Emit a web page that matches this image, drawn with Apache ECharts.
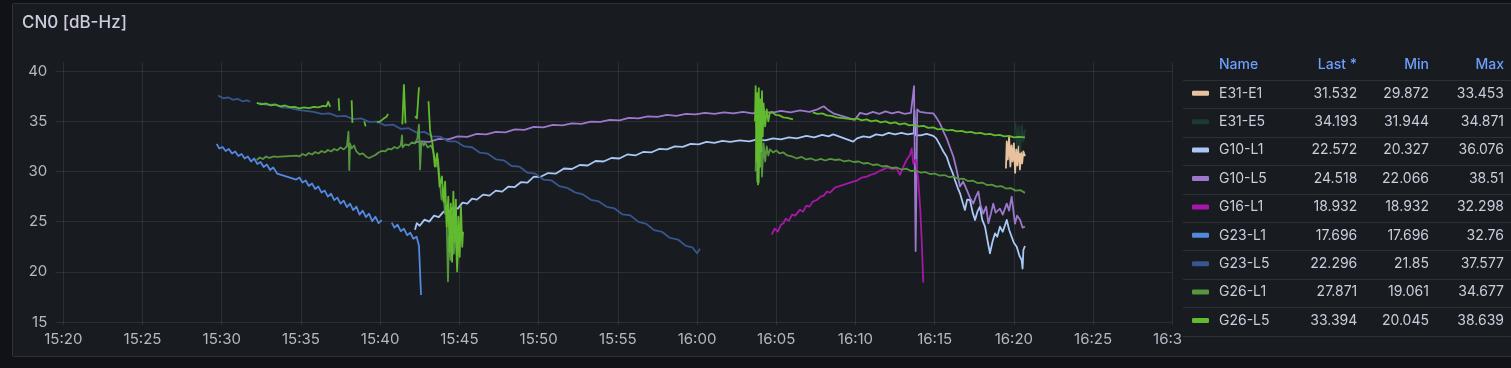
<!DOCTYPE html>
<html><head><meta charset="utf-8">
<script src="https://cdn.jsdelivr.net/npm/echarts@6/dist/echarts.min.js"></script>
<style>
html,body{margin:0;padding:0;background:#111217;width:1511px;height:368px;overflow:hidden;}
#panel{position:absolute;left:12px;top:3px;width:1510px;height:354px;background:#181b1f;border:1px solid rgba(204,204,220,0.12);border-radius:2px;box-sizing:border-box;}
#chart{position:absolute;left:0;top:0;width:1511px;height:368px;}
</style></head><body>
<div id="panel"></div><div id="chart"></div>
<script>
// ---- data (x = minutes after 15:20, y = CN0 dB-Hz; null y = gap) ----
const seriesNames  = ['E31-E1','E31-E5','G10-L1','G10-L5','G16-L1','G23-L1','G23-L5','G26-L1','G26-L5'];
const seriesColors = ['#e6c39e','#1d3a33','#a9c7f7','#9c78cc','#a818a8','#5288de','#37558f','#56963f','#62bb2e'];
const lastVals = [31.532, 34.193, 22.572, 24.518, 18.932, 17.696, 22.296, 27.871, 33.394];
const minVals  = [29.872, 31.944, 20.327, 22.066, 18.932, 17.696, 21.85, 19.061, 20.045];
const maxVals  = [33.453, 34.871, 36.076, 38.51, 32.298, 32.76, 37.577, 34.677, 38.639];
const legendHeader = ['Name','Last *','Min','Max'];
const xTickLabels = ['15:20','15:25','15:30','15:35','15:40','15:45','15:50','15:55','16:00','16:05','16:10','16:15','16:20','16:25','16:30'];
const yTickValues = [15,20,25,30,35,40];

const dataE31E1 = [[59.5,30.3],[59.55,33.0],[59.62,31.2],[59.7,33.453],[59.78,30.5],[59.85,32.6],[59.92,31.0],[60.0,32.8],[60.08,29.872],[60.15,32.2],[60.22,30.6],[60.3,32.5],[60.38,30.2],[60.45,31.9],[60.52,30.8],[60.6,32.0],[60.7,31.532]];
const dataE31E5 = [[60.1,34.871],[60.2,32.5],[60.3,34.5],[60.4,31.944],[60.5,34.6],[60.6,33.0],[60.7,34.193]];
const dataG10L1 = [[22.2,24.2],[22.31,24.84],[22.5,24.6],[22.8,25.2],[23.1,25.0],[23.4,25.6],[23.7,25.45],[24.0,26.0],[24.3,25.9],[24.6,26.4],[24.9,26.3],[25.2,26.9],[25.5,26.8],[25.8,27.3],[26.1,27.2],[26.5,27.7],[26.9,27.6],[27.3,28.1],[27.7,28.0],[28.1,28.5],[28.5,28.45],[28.9,28.95],[29.3,28.9],[29.7,29.5],[30.1,29.45],[30.6,29.85],[31.1,29.8],[31.6,30.3],[32.1,30.25],[32.6,30.65],[33.1,30.6],[33.6,31.05],[34.1,31.0],[34.6,31.35],[35.1,31.3],[35.6,31.7],[36.1,31.6],[36.6,31.95],[37.1,31.9],[37.6,32.25],[38.1,32.2],[38.6,32.5],[39.1,32.45],[39.6,32.75],[40.1,32.7],[40.6,32.95],[41.1,32.85],[41.6,33.05],[42.1,32.95],[42.7,33.1],[43.3,33.0],[43.8,33.2],[44.3,33.1],[44.8,33.3],[45.3,33.2],[45.8,33.4],[46.3,33.3],[46.9,33.55],[47.4,33.4],[47.9,33.65],[48.3,33.5],[48.6,33.7],[49.86,32.98],[50.1,33.3],[50.5,33.5],[50.9,33.4],[51.3,33.7],[51.7,33.6],[52.1,33.85],[52.5,33.7],[52.9,33.85],[53.3,33.7],[53.68,33.8],[53.72,36.076],[53.78,33.6],[54.1,33.6],[54.5,33.75],[54.91,33.55],[55.1,33.3],[55.33,32.65],[55.55,32.0],[55.76,31.48],[55.97,30.48],[56.15,29.8],[56.28,29.16],[56.45,28.4],[56.6,27.83],[56.75,27.0],[56.91,26.17],[57.05,27.2],[57.23,27.16],[57.4,25.9],[57.55,25.17],[57.7,26.0],[57.86,26.5],[58.0,25.2],[58.18,24.5],[58.35,23.0],[58.49,21.85],[58.65,23.0],[58.81,23.84],[58.95,23.5],[59.12,24.5],[59.3,24.0],[59.55,25.17],[59.7,24.2],[59.86,23.5],[60.0,22.9],[60.18,22.5],[60.35,21.6],[60.49,21.18],[60.55,20.327],[60.6,22.18],[60.7,22.572]];
const dataG10L5 = [[21.99,32.8],[22.5,33.0],[23.1,32.95],[23.7,33.25],[24.3,33.2],[24.9,33.5],[25.5,33.45],[26.1,33.75],[26.7,33.7],[27.3,33.95],[27.9,33.9],[28.5,34.2],[29.1,34.15],[29.7,34.45],[30.3,34.4],[30.9,34.65],[31.5,34.6],[32.1,34.8],[32.7,34.75],[33.3,34.98],[33.9,34.95],[34.5,35.15],[35.1,35.1],[35.7,35.35],[36.3,35.3],[36.9,35.5],[37.5,35.45],[38.1,35.65],[38.7,35.55],[39.3,35.75],[39.9,35.7],[40.5,35.85],[41.1,35.75],[41.7,35.9],[42.3,35.8],[42.9,35.95],[43.5,35.8],[44.1,36.0],[44.7,35.85],[45.3,36.05],[45.9,35.9],[46.5,36.1],[47.1,35.95],[47.6,36.2],[48.0,36.5],[48.3,36.1],[48.6,35.8],[49.95,35.14],[50.29,35.85],[50.7,35.7],[51.1,35.95],[51.5,35.75],[51.9,36.0],[52.3,35.8],[52.7,35.95],[53.1,35.75],[53.5,35.85],[53.7,38.51],[53.8,22.066],[53.9,36.2],[54.07,35.95],[54.5,35.85],[54.91,35.8],[55.1,35.4],[55.33,34.8],[55.55,34.0],[55.76,33.3],[55.97,32.4],[56.18,31.5],[56.39,30.15],[56.6,28.5],[56.8,29.0],[57.02,28.2],[57.23,27.4],[57.44,26.8],[57.6,27.5],[57.76,28.0],[57.9,26.6],[58.07,25.8],[58.25,26.5],[58.39,24.84],[58.55,25.8],[58.7,26.8],[58.85,25.9],[59.12,26.3],[59.3,25.7],[59.55,26.8],[59.7,26.1],[59.86,27.5],[60.07,24.8],[60.2,25.6],[60.39,25.2],[60.55,24.4],[60.7,24.518]];
const dataG16L1 = [[44.72,23.7],[44.9,24.3],[45.1,24.0],[45.3,24.7],[45.45,24.84],[45.6,25.3],[45.8,25.1],[46.0,25.7],[46.2,25.6],[46.5,26.2],[46.7,26.0],[46.9,26.6],[47.1,26.5],[47.3,27.0],[47.56,27.16],[47.8,27.5],[48.0,27.6],[48.2,28.0],[48.4,27.9],[48.7,28.4],[48.82,28.49],[49.86,28.99],[50.1,29.1],[50.4,29.4],[50.71,29.49],[51.0,29.7],[51.3,29.85],[51.5,30.05],[51.76,30.22],[52.0,30.4],[52.3,30.25],[52.6,30.32],[52.81,29.66],[53.0,30.4],[53.23,31.15],[53.44,31.65],[53.55,32.298],[53.65,30.8],[53.8,31.2],[53.97,29.16],[54.1,26.0],[54.18,23.2],[54.28,18.932]];
const dataG23L1 = [[9.68,32.76],[9.85,32.3],[10.05,32.45],[10.25,32.05],[10.45,32.25],[10.65,31.8],[10.85,32.0],[11.05,31.55],[11.25,31.75],[11.45,31.3],[11.65,31.5],[11.85,31.0],[12.05,31.3],[12.25,30.75],[12.45,30.95],[12.65,30.45],[12.85,30.7],[13.05,30.15],[13.25,30.4],[13.5,29.8],[14.7,29.2],[14.9,29.4],[15.1,28.9],[15.3,29.1],[15.5,28.55],[15.7,28.8],[15.9,28.25],[16.1,28.5],[16.3,27.9],[16.5,28.1],[16.7,27.5],[16.9,27.8],[17.1,27.15],[17.3,27.4],[17.5,26.8],[17.7,27.1],[17.9,26.45],[18.1,26.8],[18.3,26.15],[18.5,26.5],[18.7,25.7],[18.9,26.1],[19.1,25.45],[19.3,25.8],[19.5,25.05],[19.7,25.5],[19.9,24.85],[20.1,25.15],[20.4,null],[20.73,24.9],[20.9,24.4],[21.1,24.7],[21.3,24.05],[21.5,24.3],[21.7,23.65],[21.9,23.9],[22.1,23.3],[22.3,23.5],[22.45,22.6],[22.58,17.696]];
const dataG23L5 = [[9.77,37.577],[10.1,37.3],[10.4,37.4],[10.7,37.15],[11.0,37.25],[11.3,37.0],[11.6,37.1],[11.8,36.95],[12.0,null],[12.4,36.85],[12.8,36.65],[13.3,36.7],[13.8,36.4],[14.3,36.35],[14.8,36.15],[15.3,36.05],[15.8,35.95],[16.3,35.75],[16.8,35.8],[17.3,35.5],[17.8,35.55],[18.3,35.22],[18.8,35.3],[19.3,34.95],[19.8,34.98],[20.3,34.6],[20.8,34.68],[21.3,34.25],[21.8,34.32],[22.3,33.88],[22.8,33.95],[23.3,33.5],[23.8,33.48],[24.3,33.0],[24.8,33.0],[25.3,32.5],[25.8,32.42],[26.3,31.88],[26.8,31.78],[27.3,31.22],[27.8,31.12],[28.3,30.55],[28.8,30.48],[29.3,29.88],[29.8,29.78],[30.3,29.2],[30.8,29.12],[31.3,28.55],[31.8,28.38],[32.3,27.92],[32.8,27.72],[33.3,27.18],[33.8,27.02],[34.3,26.48],[34.8,26.32],[35.3,25.72],[35.8,25.62],[36.3,24.98],[36.8,24.78],[37.3,24.15],[37.8,23.98],[38.3,23.38],[38.8,23.22],[39.3,22.58],[39.7,22.45],[40.0,21.85],[40.19,22.296]];
const dataG26L1 = [[12.21,31.15],[12.4,31.4],[12.6,31.25],[12.8,31.5],[13.0,31.35],[13.3,31.5],[13.47,31.45],[14.73,31.58],[14.9,31.5],[15.1,31.75],[15.3,31.6],[15.5,31.85],[15.7,31.7],[15.9,31.95],[16.1,31.8],[16.3,32.05],[16.5,31.9],[16.7,32.15],[16.9,32.0],[17.1,32.25],[17.3,32.1],[17.5,32.4],[17.7,32.2],[17.9,32.5],[18.0,33.97],[18.05,30.15],[18.1,32.8],[18.2,32.3],[18.35,32.6],[18.5,32.0],[18.7,31.7],[18.9,31.8],[19.1,31.5],[19.3,31.35],[19.5,31.5],[19.7,31.65],[19.9,31.9],[20.1,32.05],[20.3,32.0],[20.5,32.25],[20.7,32.2],[20.9,32.45],[21.1,32.3],[21.3,32.6],[21.38,33.6],[21.42,32.4],[21.6,32.7],[21.8,32.6],[22.0,32.9],[22.2,32.8],[22.35,33.3],[22.45,34.677],[22.52,30.2],[22.6,33.0],[22.75,32.6],[22.83,32.9],[23.0,32.4],[23.2,32.6],[23.35,32.1],[23.52,30.5],[23.65,31.2],[23.78,28.8],[23.88,27.2],[24.0,28.0],[24.09,25.8],[24.18,26.5],[24.28,19.061],[24.35,23.5],[24.45,21.2],[24.55,25.0],[24.65,21.8],[24.75,24.2],[24.85,20.5],[24.95,23.0],[30,null],[43.7,30.0],[43.75,33.5],[43.8,29.0],[43.85,34.2],[43.9,28.9],[43.95,33.0],[44.0,30.5],[44.05,34.6],[44.1,29.5],[44.2,32.8],[44.3,31.0],[44.4,32.5],[44.5,31.6],[44.6,32.2],[44.8,31.9],[45.0,32.1],[45.2,31.8],[45.45,31.9],[45.7,31.6],[46.0,31.5],[46.3,31.3],[46.6,31.45],[46.9,31.2],[47.2,31.3],[47.5,31.1],[47.8,31.25],[48.1,31.1],[48.4,31.25],[48.7,31.15],[49.0,31.2],[49.3,31.0],[49.6,31.1],[49.9,30.95],[50.2,31.0],[50.5,30.8],[50.8,30.85],[51.1,30.65],[51.4,30.7],[51.7,30.5],[52.0,30.55],[52.3,30.35],[52.6,30.4],[52.9,30.2],[53.2,30.3],[53.5,30.05],[53.8,30.1],[54.1,29.9],[54.4,29.95],[54.7,29.75],[55.0,29.8],[55.3,29.6],[55.6,29.65],[55.9,29.45],[56.2,29.5],[56.5,29.25],[56.8,29.3],[57.1,29.05],[57.4,29.1],[57.7,28.85],[58.0,28.9],[58.3,28.65],[58.6,28.7],[58.9,28.5],[59.2,28.55],[59.5,28.3],[59.8,28.35],[60.1,28.1],[60.4,28.15],[60.7,27.871]];
const dataG26L5 = [[12.21,36.85],[12.5,36.7],[12.8,36.78],[13.1,36.6],[13.4,36.68],[13.7,36.5],[14.0,36.58],[14.3,36.42],[14.6,36.45],[14.9,36.3],[15.2,36.4],[15.5,36.32],[15.8,36.45],[16.1,36.4],[16.4,36.55],[16.6,36.5],[16.72,36.95],[16.85,36.45],[17.1,null],[17.38,37.3],[17.42,36.05],[17.8,null],[18.2,37.1],[18.25,34.85],[18.6,null],[19.0,35.0],[19.08,34.5],[19.4,null],[19.8,34.9],[20.0,35.0],[20.2,35.25],[20.4,35.45],[20.5,35.75],[20.9,null],[21.4,34.7],[21.5,38.639],[21.6,34.8],[21.9,null],[22.2,35.5],[22.32,35.3],[22.45,38.4],[22.8,null],[23.05,37.0],[23.15,34.1],[23.3,32.8],[23.45,30.5],[23.6,31.8],[23.75,28.5],[23.9,29.5],[24.0,27.0],[24.1,29.0],[24.2,24.5],[24.3,27.5],[24.38,22.0],[24.46,26.8],[24.54,21.0],[24.62,28.0],[24.7,23.0],[24.78,27.2],[24.86,20.045],[24.94,25.5],[25.02,21.5],[25.1,26.5],[25.18,22.5],[25.23,24.0],[30,null],[43.66,35.0],[43.7,38.5],[43.75,31.0],[43.8,37.8],[43.85,28.7],[43.9,38.3],[43.95,30.5],[44.0,37.2],[44.05,32.0],[44.1,38.0],[44.15,33.5],[44.2,36.8],[44.3,34.5],[44.4,36.2],[44.5,35.0],[44.6,35.9],[44.75,35.95],[44.95,35.65],[45.2,35.6],[45.45,35.4],[45.7,35.35],[46.06,35.2],[46.7,null],[47.3,35.9],[47.6,35.75],[47.9,35.8],[48.2,35.6],[48.5,35.55],[48.8,35.4],[49.86,35.2],[50.1,35.3],[50.4,35.1],[50.7,35.2],[51.0,35.0],[51.3,35.1],[51.6,34.9],[51.9,35.0],[52.2,34.8],[52.5,34.9],[52.8,34.7],[53.1,34.8],[53.4,34.6],[53.7,34.65],[54.0,34.5],[54.3,34.55],[54.6,34.35],[54.9,34.4],[55.2,34.2],[55.5,34.25],[55.8,34.1],[56.1,34.15],[56.4,34.0],[56.7,34.05],[57.0,33.9],[57.3,33.95],[57.6,33.8],[57.9,33.85],[58.2,33.7],[58.5,33.75],[58.8,33.6],[59.1,33.65],[59.4,33.5],[59.7,33.55],[60.0,33.4],[60.3,33.45],[60.7,33.394]];
const seriesData = [dataE31E1, dataE31E5, dataG10L1, dataG10L5, dataG16L1, dataG23L1, dataG23L5, dataG26L1, dataG26L5];

// ---- chart ----
const FONT = 'Inter, "Noto Sans", sans-serif';
const GRID_COLOR = 'rgba(240,250,255,0.09)';
const TEXT = '#ccccdc';
const AXIS_TEXT = 'rgba(204,204,220,0.88)';
const chart = echarts.init(document.getElementById('chart'), null, {renderer: 'canvas'});

const series = seriesNames.map((name, i) => ({
  name, type: 'line', showSymbol: false, symbol: 'none', animation: false,
  color: seriesColors[i], connectNulls: false,
  lineStyle: {width: 1.8, color: seriesColors[i], join: 'round'},
  emphasis: {disabled: true},
  data: seriesData[i].map(p => [p[0], p[1] === null ? '-' : p[1]])
}));

const rowTop = 80, rowPitch = 28.4;
const graphic = [
  {type: 'rect', z: 5, shape: {x: 1181, y: 326, width: 330, height: 29}, style: {fill: '#181b1f'}}
];
for (let k = 0; k <= seriesNames.length; k++) {
  const y = Math.round(rowTop + k * rowPitch) + 0.5;
  graphic.push({type: 'line', z: 6, shape: {x1: 1183, y1: y, x2: 1511, y2: y}, style: {stroke: 'rgba(204,204,220,0.12)', lineWidth: 1}});
}
const headerX = [1219, 1357, 1429, 1504];
legendHeader.forEach((t, k) => {
  graphic.push({type: 'text', z: 6, x: headerX[k], y: 65,
    style: {text: t, fill: '#6e9fff', font: '500 14px ' + FONT,
      align: k === 0 ? 'left' : 'right', verticalAlign: 'middle',
      textAlign: k === 0 ? 'left' : 'right', textVerticalAlign: 'middle'}});
});

const tok = (w, align) => ({width: w, align, fontSize: 14, lineHeight: 17, fontFamily: FONT, color: TEXT});

chart.setOption({
  backgroundColor: 'transparent',
  animation: false,
  title: {text: 'CN0 [dB-Hz]', left: 22, top: 14, padding: 0,
    textStyle: {color: TEXT, fontSize: 17, fontWeight: 500, fontFamily: FONT}},
  grid: {left: 63.3, right: 1511 - 1172.3, top: 71.2, bottom: 368 - 322, containLabel: false},
  xAxis: [{
    type: 'value', min: 0, max: 70, interval: 5, position: 'bottom',
    axisLine: {show: false}, axisTick: {show: true, length: 3, lineStyle: {color: GRID_COLOR, width: 1}},
    splitLine: {show: true, lineStyle: {color: GRID_COLOR, width: 1}},
    axisLabel: {color: AXIS_TEXT, fontSize: 15, fontFamily: FONT, margin: 10,
      showMinLabel: true, showMaxLabel: true,
      formatter: v => xTickLabels[Math.round(v / 5)] || ''}
  }, {
    type: 'value', min: 0, max: 70, interval: 5, position: 'top',
    axisLine: {show: false}, axisLabel: {show: false}, splitLine: {show: false},
    axisTick: {show: true, length: 9, lineStyle: {color: GRID_COLOR, width: 1}}
  }],
  yAxis: {
    type: 'value', min: yTickValues[0], max: yTickValues[yTickValues.length - 1], interval: 5,
    axisLine: {show: false},
    axisTick: {show: true, length: 8, lineStyle: {color: GRID_COLOR, width: 1}},
    splitLine: {show: true, lineStyle: {color: GRID_COLOR, width: 1}},
    axisLabel: {color: AXIS_TEXT, fontSize: 15, fontFamily: FONT, margin: 16}
  },
  legend: {
    orient: 'vertical', left: 1192, top: 84.8, itemWidth: 17, itemHeight: 5, itemGap: 11.4,
    icon: 'roundRect', selectedMode: false, z: 20, padding: 0,
    data: seriesNames,
    formatter: name => {
      const i = seriesNames.indexOf(name);
      return '{g| }{n|' + name + '}{l|' + lastVals[i] + '}{m|' + minVals[i] + '}{x|' + maxVals[i] + '}';
    },
    textStyle: {color: TEXT, fontSize: 14, fontFamily: FONT, lineHeight: 17,
      rich: {g: tok(5, 'left'), n: tok(70, 'left'), l: tok(68.3, 'right'), m: tok(71.7, 'right'), x: tok(75, 'right')}}
  },
  graphic,
  series
});
</script>
</body></html>
